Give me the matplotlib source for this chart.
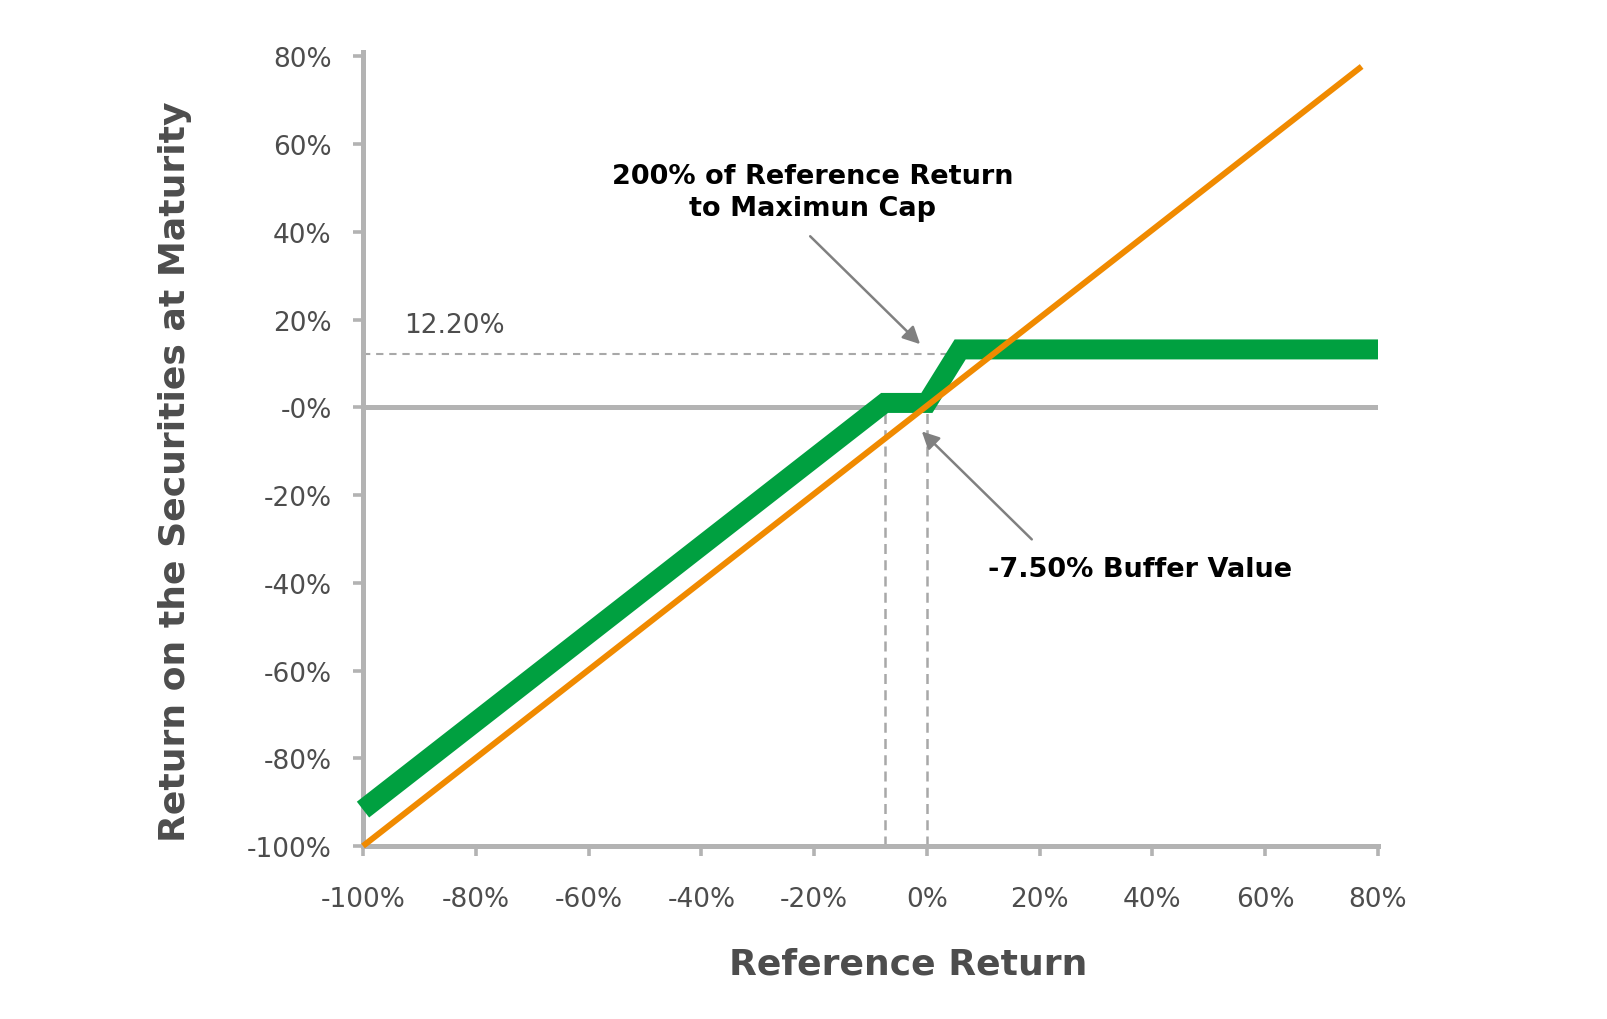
import matplotlib.pyplot as plt

plt.rcParams['font.family'] = ['DejaVu Sans']

# reference return (1:1) and securities payoff
ref_x = [-100, 77.1]
ref_y = [-100, 77.7]
sec_x = [-100, -7.5, 0, 5.9, 80]
sec_y = [-91.7, 1.0, 1.0, 13.2, 13.2]
cap_value = 12.2
buffer_value = -7.5

xticks = list(range(-100, 81, 20))
xticklabels = [f'{v}%' for v in xticks]
yticks = list(range(-100, 81, 20))
yticklabels = ['-0%' if v == 0 else f'{v}%' for v in yticks]

gray = '#b3b3b3'
dash_gray = '#a8a8a8'
text_gray = '#4d4d4d'

fig = plt.figure(figsize=(16.08, 10.2), dpi=100)
ax = fig.add_axes([363 / 1608, 1 - 847 / 1020, 1015 / 1608, 794 / 1020])

ax.axhline(0, color=gray, lw=3.6, zorder=1)
ax.plot([-100, 5], [cap_value, cap_value], color=dash_gray, lw=1.5,
        ls=(0, (3.5, 2.8)), zorder=1)
ax.plot([buffer_value, buffer_value], [-100, 0], color=dash_gray, lw=1.8,
        ls=(0, (4, 2.5)), zorder=1)
ax.plot([0, 0], [-100, 0], color=dash_gray, lw=1.8, ls=(0, (4, 2.5)), zorder=1)

ax.plot(sec_x, sec_y, color='#00a040', lw=14.4, solid_joinstyle='miter',
        solid_capstyle='butt', clip_on=False, zorder=3)
ax.plot(ref_x, ref_y, color='#f08a00', lw=4.3, solid_capstyle='butt',
        clip_on=False, zorder=4)

ax.set_xlim(-100, 80)
ax.set_ylim(-100, 81)
ax.set_xticks(xticks)
ax.set_xticklabels(xticklabels)
ax.set_yticks(yticks)
ax.set_yticklabels(yticklabels)

for s in ['top', 'right']:
    ax.spines[s].set_visible(False)
for s in ['left', 'bottom']:
    ax.spines[s].set_color(gray)
    ax.spines[s].set_linewidth(3.6)
    ax.spines[s].set_zorder(2)

ax.tick_params(axis='both', length=7.5, width=2.6, color=gray,
               labelsize=19, labelcolor=text_gray)
ax.tick_params(axis='y', pad=15)
ax.tick_params(axis='x', pad=21)

arrow = dict(arrowstyle='-|>', color='#808080', lw=1.8, mutation_scale=26,
             shrinkA=0, shrinkB=0)
ax.annotate('', xy=(-1.2, 14.4), xytext=(-20.7, 39.0), arrowprops=arrow)
ax.annotate('', xy=(-0.9, -5.5), xytext=(18.6, -30.1), arrowprops=arrow)

ax.text(-20.2, 49.0, '200% of Reference Return\nto Maximun Cap', ha='center',
        va='center', fontsize=19.5, fontweight='bold', color='black',
        linespacing=1.3)
ax.text(37.8, -36.9, '-7.50% Buffer Value', ha='center', va='center',
        fontsize=19.5, fontweight='bold', color='black')
ax.text(-83.7, 18.7, '12.20%', ha='center', va='center', fontsize=19,
        color=text_gray)

fig.text(908 / 1608, 1 - 965 / 1020, 'Reference Return', ha='center',
         va='center', fontsize=26, fontweight='bold', color=text_gray)
fig.text(175 / 1608, 1 - 472 / 1020, 'Return on the Securities at Maturity',
         ha='center', va='center', rotation=90, fontsize=26,
         fontweight='bold', color=text_gray)

fig.savefig('out.png', dpi=100, facecolor='white')
